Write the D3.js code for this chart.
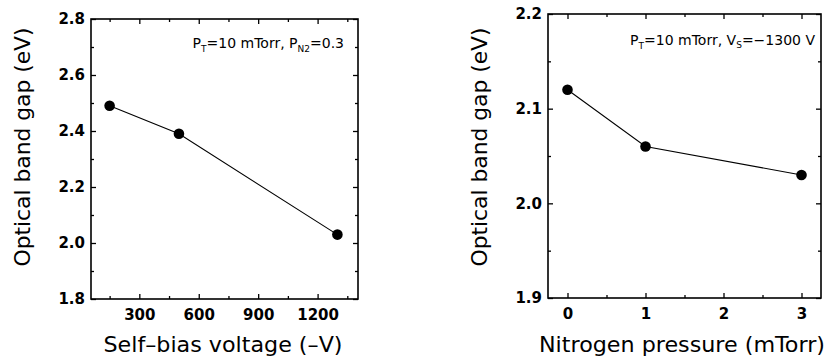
<!DOCTYPE html>
<meta charset="utf-8">
<style>
body { margin: 0; background: #fff; }
svg { display: block; }
.axis path { display: none; }
.axis line { stroke: #000; stroke-width: 1.3; }
.axis text { font: bold 15px "DejaVu Sans", sans-serif; fill: #000; }
.frame { fill: none; stroke: #000; stroke-width: 1.6; }
.title { font: 21px "DejaVu Sans", sans-serif; fill: #000; }
.note { font: 14px "DejaVu Sans", sans-serif; fill: #000; }
.series { fill: none; stroke: #000; stroke-width: 1.1; }
</style>
<body>
<svg id="chart" width="835" height="360"></svg>
<script src="https://cdn.jsdelivr.net/npm/d3@7"></script>
<script>

// left panel: band gap vs self-bias voltage
var biasVoltage = [150, 500, 1300];
var biasGap = [2.49, 2.39, 2.03];
var biasTicks = [300, 600, 900, 1200];
var biasMinor = [150, 450, 750, 1050, 1350];
var gapTicksL = [1.8, 2.0, 2.2, 2.4, 2.6, 2.8];
var gapMinorL = [1.9, 2.1, 2.3, 2.5, 2.7];

// right panel: band gap vs nitrogen pressure
var n2Pressure = [0, 1, 3];
var n2Gap = [2.12, 2.06, 2.03];
var n2Ticks = [0, 1, 2, 3];
var n2Minor = [0.5, 1.5, 2.5];
var gapTicksR = [1.9, 2.0, 2.1, 2.2];
var gapMinorR = [1.95, 2.05, 2.15];

var svg = d3.select("#chart");

function panel(opt) {
  var x = d3.scaleLinear().domain(opt.xDomain).range([opt.left, opt.right]);
  var y = d3.scaleLinear().domain(opt.yDomain).range([opt.bottom, opt.top]);
  var g = svg.append("g");

  // ticks point inward on all four sides
  g.append("g").attr("class", "axis").attr("transform", "translate(0," + opt.bottom + ")")
    .call(d3.axisBottom(x).tickValues(opt.xTicks).tickSizeInner(-5).tickPadding(10).tickFormat(d3.format("d")));
  g.append("g").attr("class", "axis").attr("transform", "translate(0," + opt.bottom + ")")
    .call(d3.axisBottom(x).tickValues(opt.xMinor).tickSizeInner(-3).tickFormat(""));
  g.append("g").attr("class", "axis").attr("transform", "translate(0," + opt.top + ")")
    .call(d3.axisTop(x).tickValues(opt.xTicks).tickSizeInner(-5).tickFormat(""));
  g.append("g").attr("class", "axis").attr("transform", "translate(0," + opt.top + ")")
    .call(d3.axisTop(x).tickValues(opt.xMinor).tickSizeInner(-3).tickFormat(""));

  g.append("g").attr("class", "axis").attr("transform", "translate(" + opt.left + ",0)")
    .call(d3.axisLeft(y).tickValues(opt.yTicks).tickSizeInner(-5).tickPadding(6).tickFormat(d3.format(".1f")));
  g.append("g").attr("class", "axis").attr("transform", "translate(" + opt.left + ",0)")
    .call(d3.axisLeft(y).tickValues(opt.yMinor).tickSizeInner(-3).tickFormat(""));
  g.append("g").attr("class", "axis").attr("transform", "translate(" + opt.right + ",0)")
    .call(d3.axisRight(y).tickValues(opt.yTicks).tickSizeInner(-5).tickFormat(""));
  g.append("g").attr("class", "axis").attr("transform", "translate(" + opt.right + ",0)")
    .call(d3.axisRight(y).tickValues(opt.yMinor).tickSizeInner(-3).tickFormat(""));

  g.append("rect").attr("class", "frame")
    .attr("x", opt.left).attr("y", opt.top)
    .attr("width", opt.right - opt.left).attr("height", opt.bottom - opt.top);

  var pts = opt.xs.map(function(v, i) { return [v, opt.ys[i]]; });
  var line = d3.line().x(function(d) { return x(d[0]); }).y(function(d) { return y(d[1]); });
  g.append("path").attr("class", "series").attr("d", line(pts));
  g.selectAll(".dot").data(pts).enter().append("circle")
    .attr("cx", function(d) { return x(d[0]); })
    .attr("cy", function(d) { return y(d[1]); })
    .attr("r", 5.3).attr("fill", "#000");

  g.append("text").attr("class", "title")
    .attr("transform", "translate(" + opt.yLabelX + ",147) rotate(-90)")
    .attr("text-anchor", "middle").attr("dy", "0.35em")
    .attr("textLength", 239).attr("lengthAdjust", "spacingAndGlyphs")
    .text("Optical band gap (eV)");
  g.append("text").attr("class", "title")
    .attr("x", opt.xLabelX).attr("y", 352).attr("text-anchor", "middle")
    .attr("textLength", opt.xLabelW).attr("lengthAdjust", "spacingAndGlyphs")
    .text(opt.xLabel);

  var note = g.append("text").attr("class", "note")
    .attr("x", opt.noteX).attr("y", opt.noteY).attr("text-anchor", "end");
  opt.note.forEach(function(p) {
    var t = note.append("tspan").text(p[0]);
    if (p[1]) t.attr("dy", p[1]);
    if (p[2]) t.attr("font-size", "9px");
  });
}

panel({
  left: 91, right: 358, top: 19, bottom: 299,
  xDomain: [56, 1404], yDomain: [1.8, 2.8],
  xTicks: biasTicks, xMinor: biasMinor, yTicks: gapTicksL, yMinor: gapMinorL,
  xs: biasVoltage, ys: biasGap,
  yLabelX: 23, xLabelX: 223, xLabelW: 239, xLabel: "Self\u2013bias voltage (\u2013V)",
  noteX: 344, noteY: 48,
  note: [["P"], ["T", 4, 1], ["=10 mTorr, P", -4], ["N2", 4, 1], ["=0.3", -4]]
});

panel({
  left: 548, right: 821, top: 14, bottom: 298,
  xDomain: [-0.25, 3.25], yDomain: [1.9, 2.2],
  xTicks: n2Ticks, xMinor: n2Minor, yTicks: gapTicksR, yMinor: gapMinorR,
  xs: n2Pressure, ys: n2Gap,
  yLabelX: 480, xLabelX: 682, xLabelW: 286, xLabel: "Nitrogen pressure (mTorr)",
  noteX: 815, noteY: 45,
  note: [["P"], ["T", 4, 1], ["=10 mTorr, V", -4], ["S", 3, 1], ["=\u22121300 V", -3]]
});

</script>
</body>
